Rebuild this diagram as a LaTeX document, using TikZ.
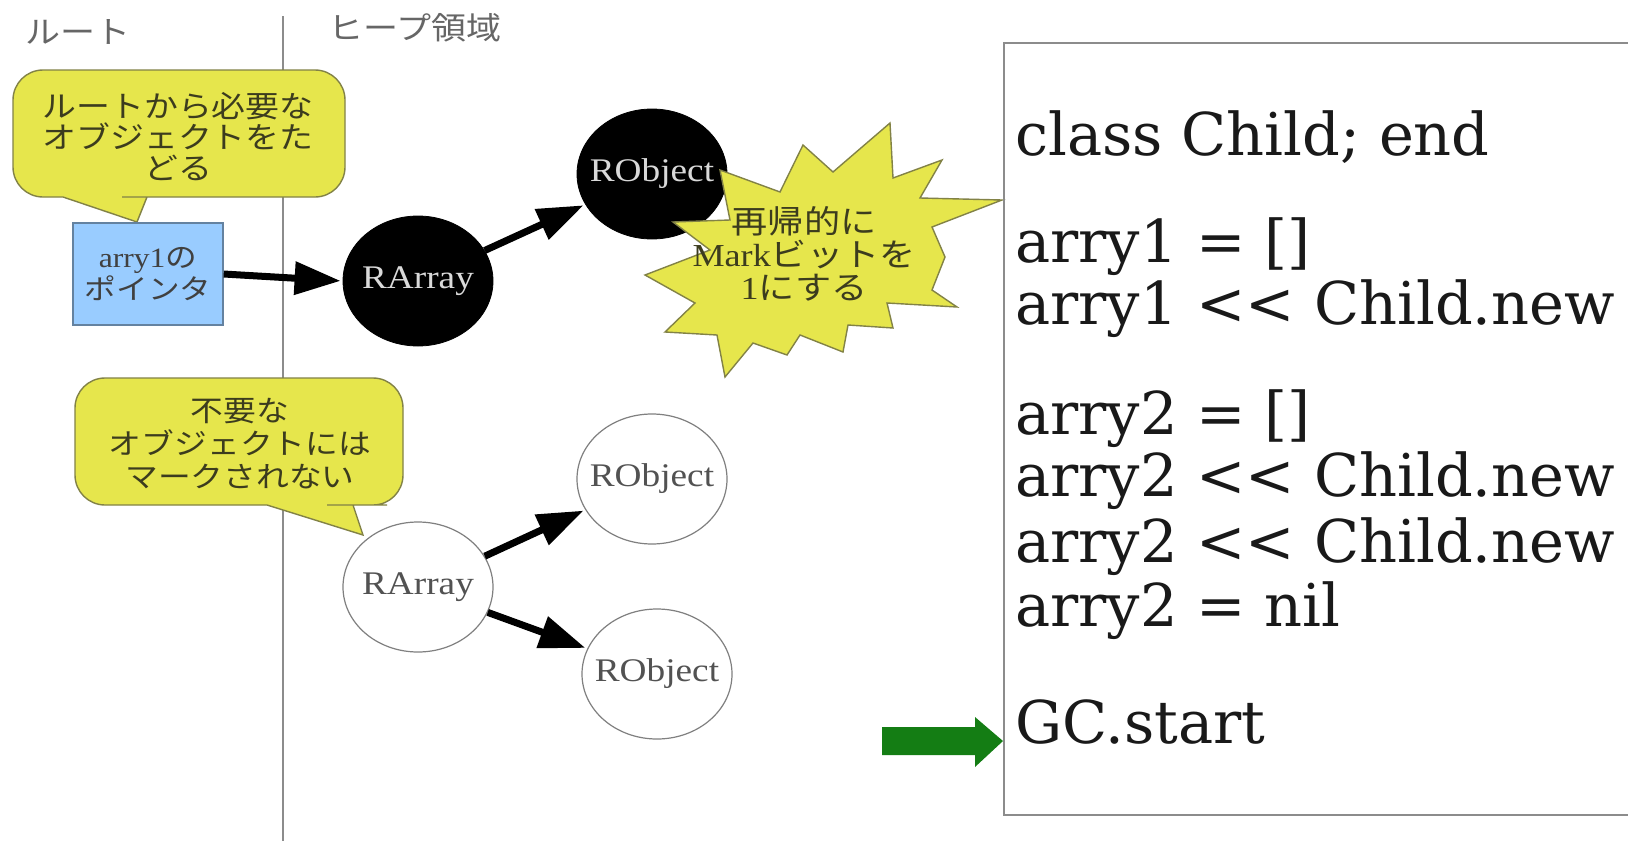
\documentclass[tikz,border=0pt]{standalone}
\usepackage{fontspec}
\setmainfont[FakeStretch=1.13]{Liberation Serif}
\newfontfamily\cjk[FakeStretch=1.13]{Noto Sans CJK JP}
\newfontfamily\codefont{DejaVu Serif}
\usetikzlibrary{shapes.geometric,arrows.meta}
\definecolor{calloutfill}{RGB}{230,230,76}
\definecolor{calloutline}{RGB}{130,130,70}
\definecolor{callouttext}{RGB}{60,60,30}
\definecolor{bluefill}{RGB}{153,204,255}
\definecolor{blueline}{RGB}{100,130,160}
\definecolor{greenarrow}{RGB}{20,125,20}
\definecolor{gridgray}{RGB}{140,140,140}
\tikzset{
  blackobj/.style={ellipse, fill=black, draw=black, minimum width=75pt, minimum height=65pt, inner sep=0pt, text=white!85!black, font=\fontsize{16.5}{18}\selectfont},
  whiteobj/.style={ellipse, fill=white, draw=gray, line width=0.6pt, minimum width=75pt, minimum height=65pt, inner sep=0pt, text=black!68, font=\fontsize{16.5}{18}\selectfont},
  ptrarrow/.style={line width=3.5pt, -{Triangle[length=23pt,width=16pt]}, shorten >=1pt},
  calloutshape/.style={fill=calloutfill, draw=calloutline, line width=0.7pt},
  callouttxt/.style={align=center, text=callouttext, font=\cjk\fontsize{15}{15.5}\selectfont},
  header/.style={text=black!60, font=\cjk\fontsize{15.5}{16}\selectfont},
  codeline/.style={anchor=base west, inner sep=0pt, font=\codefont\fontsize{29.5}{31}\selectfont, text=black!90},
}
\begin{document}
\begin{tikzpicture}[x=0.5pt,y=-0.5pt]
\useasboundingbox (0,0) rectangle (1628,841);
\fill[white] (0,0) rectangle (1628,841);

% headers and divider
\node[header] (root) at (78,32) {ルート};
\node[header] (heap) at (415,28) {ヒープ領域};
\coordinate (divtop) at (283,16);
\coordinate (divbot) at (283,841);
\draw[gridgray, line width=0.8pt] (divtop) -- (divbot);

% callout 1
\draw[calloutshape, rounded corners=15pt] (13,135) |- (345,70) -- (345,197) -- (152,197) [sharp corners] -- (147,197) -- (137,222) -- (63,197) [rounded corners=15pt] -| cycle;
\node[callouttxt] (c1) at (178,137) {ルートから必要な\\オブジェクトをた\\どる};

% pointer box
\node[fill=bluefill, draw=blueline, line width=0.7pt, minimum width=75pt, minimum height=51pt, align=center, inner sep=0pt, text=black!75, font=\fontsize{14}{13.5}\selectfont] (ptr) at (148,274) {arry1{\cjk の}\\{\cjk ポインタ}};

% live objects
\node[blackobj] (ra1) at (418,281) {\makebox[0pt]{RArray}};
\node[blackobj] (ro1) at (652,174) {\makebox[0pt]{RObject}};
\draw[ptrarrow] (ptr.east) -- (ra1.west);
\draw[ptrarrow] (ra1) -- (ro1);

% starburst
\draw[fill=calloutfill, draw=calloutline, line width=0.7pt]
 (720,170) -- (780,192) -- (803,145) -- (833,172) -- (890,123) -- (893,178) -- (942,160) -- (920,198) -- (1002,200) -- (932,227) -- (945,257) -- (932,290) -- (957,307) -- (887,303) -- (893,328) -- (848,325) -- (843,352) -- (800,335) -- (787,355) -- (753,343) -- (725,377) -- (717,335) -- (665,332) -- (695,303) -- (645,275) -- (710,250) -- (673,222) -- (730,220) -- cycle;
\node[align=center, text=callouttext, font=\fontsize{16}{16.5}\selectfont] (burst) at (804,254) {{\cjk 再帰的に}\\Mark{\cjk ビットを}\\1{\cjk にする}};

% callout 2
\draw[calloutshape, rounded corners=15pt] (75,440) |- (403,378) -- (403,505) -- (357,505) [sharp corners] -- (353,505) -- (363,535) -- (267,505) [rounded corners=15pt] -| cycle;
\node[callouttxt, font=\cjk\fontsize{14.5}{16.5}\selectfont] (c2) at (240,444) {不要な\\オブジェクトには\\マークされない};

% dead objects
\node[whiteobj] (ra2) at (418,587) {\makebox[0pt]{RArray}};
\node[whiteobj] (ro2) at (652,479) {\makebox[0pt]{RObject}};
\node[whiteobj] (ro3) at (657,674) {\makebox[0pt]{RObject}};
\draw[ptrarrow] (ra2) -- (ro2);
\draw[ptrarrow] (ra2) -- (ro3);

% code box
\draw[gridgray, line width=0.8pt] (1640,43) -| (1004,815) -- (1640,815);
\node[codeline] (l1) at (1015,155) {class Child; end};
\node[codeline] (l2) at (1015,262) {arry1 = []};
\node[codeline] (l3) at (1015,324) {arry1 << Child.new};
\node[codeline] (l4) at (1015,434) {arry2 = []};
\node[codeline] (l5) at (1015,496) {arry2 << Child.new};
\node[codeline] (l6) at (1015,562) {arry2 << Child.new};
\node[codeline] (l7) at (1015,626) {arry2 = nil};
\node[codeline] (l8) at (1015,743) {GC.start};

% green arrow
\fill[greenarrow] (882,727) -- (975,727) -- (975,717) -- (1003,741) -- (975,767) -- (975,755) -- (882,755) -- cycle;
\end{tikzpicture}
\end{document}
